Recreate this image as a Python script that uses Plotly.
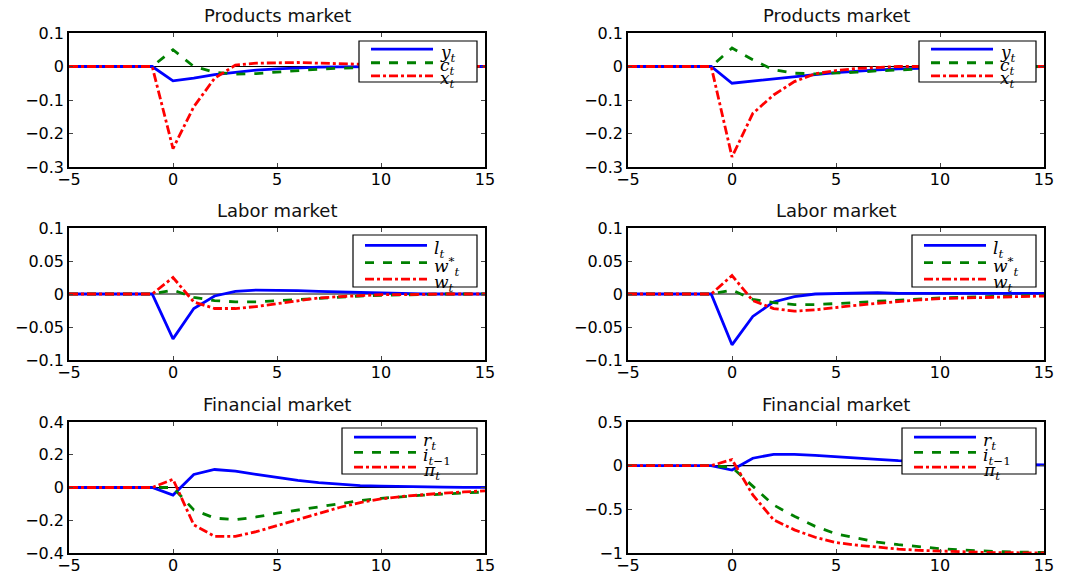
import plotly.graph_objects as go

t = list(range(-5, 16))
pre = [0, 0, 0, 0, 0]

# Products market (left)
y_L = pre + [-0.043, -0.035, -0.024, -0.017, -0.011, -0.007, -0.004, -0.002, -0.001, 0.0, 0.0, 0.0, 0.0, 0.0, 0.0, 0.0]
c_L = pre + [0.05, 0.0, -0.017, -0.023, -0.021, -0.016, -0.012, -0.008, -0.005, -0.003, -0.002, -0.001, 0.0, 0.0, 0.0, 0.0]
x_L = pre + [-0.245, -0.12, -0.035, 0.004, 0.01, 0.012, 0.012, 0.01, 0.008, 0.006, 0.004, 0.003, 0.002, 0.001, 0.001, 0.0]
# Products market (right)
y_R = pre + [-0.05, -0.043, -0.036, -0.03, -0.024, -0.018, -0.013, -0.01, -0.007, -0.005, -0.003, -0.002, -0.001, -0.001, 0.0, 0.0]
c_R = pre + [0.055, 0.02, -0.01, -0.02, -0.022, -0.02, -0.017, -0.013, -0.01, -0.007, -0.005, -0.003, -0.002, -0.001, -0.001, 0.0]
x_R = pre + [-0.27, -0.14, -0.085, -0.045, -0.022, -0.012, -0.006, -0.002, 0.0, 0.0, 0.0, 0.0, 0.0, 0.0, 0.0, 0.0]
# Labor market (left)
l_L = pre + [-0.068, -0.022, -0.003, 0.004, 0.006, 0.006, 0.005, 0.004, 0.003, 0.002, 0.001, 0.001, 0.0, 0.0, 0.0, 0.0]
ws_L = pre + [0.006, -0.005, -0.01, -0.012, -0.012, -0.01, -0.008, -0.006, -0.004, -0.003, -0.002, -0.001, -0.001, 0.0, 0.0, 0.0]
w_L = pre + [0.025, -0.012, -0.022, -0.022, -0.019, -0.015, -0.01, -0.006, -0.004, -0.002, -0.001, -0.001, 0.0, 0.0, 0.0, 0.0]
# Labor market (right)
l_R = pre + [-0.077, -0.034, -0.012, -0.004, 0.0, 0.001, 0.002, 0.002, 0.001, 0.001, 0.001, 0.001, 0.001, 0.001, 0.001, 0.001]
ws_R = pre + [0.006, -0.008, -0.013, -0.016, -0.016, -0.015, -0.013, -0.011, -0.009, -0.008, -0.006, -0.005, -0.004, -0.003, -0.002, -0.002]
w_R = pre + [0.028, -0.01, -0.022, -0.026, -0.024, -0.02, -0.017, -0.014, -0.011, -0.009, -0.007, -0.006, -0.005, -0.004, -0.003, -0.003]
# Financial market (left)
r_L = pre + [-0.046, 0.08, 0.11, 0.1, 0.08, 0.06, 0.043, 0.03, 0.02, 0.012, 0.008, 0.005, 0.003, 0.002, 0.001, 0.001]
i_L = pre + [0.0, -0.137, -0.187, -0.197, -0.18, -0.157, -0.137, -0.116, -0.096, -0.08, -0.066, -0.055, -0.047, -0.04, -0.033, -0.027]
p_L = pre + [0.05, -0.228, -0.298, -0.298, -0.27, -0.232, -0.195, -0.157, -0.122, -0.092, -0.07, -0.055, -0.043, -0.034, -0.027, -0.02]
# Financial market (right)
r_R = pre + [-0.05, 0.085, 0.13, 0.13, 0.118, 0.1, 0.087, 0.072, 0.057, 0.045, 0.035, 0.028, 0.022, 0.017, 0.013, 0.01]
i_R = pre + [-0.02, -0.24, -0.45, -0.58, -0.695, -0.78, -0.83, -0.875, -0.905, -0.93, -0.95, -0.965, -0.977, -0.985, -0.99, -0.993]
p_R = pre + [0.07, -0.335, -0.62, -0.735, -0.82, -0.88, -0.91, -0.935, -0.955, -0.97, -0.98, -0.988, -0.992, -0.996, -0.998, -1.0]

titles = ["Products market", "Labor market", "Financial market"]
names = [
    ["<i>y</i><sub><i>t</i></sub>", "<i>c</i><sub><i>t</i></sub>", "<i>x</i><sub><i>t</i></sub>"],
    ["<i>l</i><sub><i>t</i></sub>", "<i>w</i><sup>*</sup><sub><i>t</i></sub>", "<i>w</i><sub><i>t</i></sub>"],
    ["<i>r</i><sub><i>t</i></sub>", "<i>i</i><sub><i>t</i>−1</sub>", "<i>π</i><sub><i>t</i></sub>"],
]
series = [
    [[y_L, c_L, x_L], [y_R, c_R, x_R]],
    [[l_L, ws_L, w_L], [l_R, ws_R, w_R]],
    [[r_L, i_L, p_L], [r_R, i_R, p_R]],
]
yticks = [
    [[-0.3, -0.2, -0.1, 0, 0.1], ["−0.3", "−0.2", "−0.1", "0", "0.1"]],
    [[-0.1, -0.05, 0, 0.05, 0.1], ["−0.1", "−0.05", "0", "0.05", "0.1"]],
]
yticks_fin = [
    [[-0.4, -0.2, 0, 0.2, 0.4], ["−0.4", "−0.2", "0", "0.2", "0.4"]],
    [[-1, -0.5, 0, 0.5], ["−1", "−0.5", "0", "0.5"]],
]
xtickvals = [-5, 0, 5, 10, 15]
xticktext = ["−5", "0", "5", "10", "15"]

# page body has an 8px margin; figure is sized/offset to compensate
OFF = 8
W, H = 1068 - OFF, 573 - OFF
xdom_px = [(69, 485), (628, 1044)]
ydom_px = [(33, 167), (228, 360), (422, 553)]
# legend boxes (x0, y0, x1, y1) in screen pixels
legend_box = [
    [(359, 41, 477, 82), (919, 41, 1036, 82)],
    [(353, 235, 477, 287), (912, 235, 1036, 287)],
    [(342, 428, 477, 474), (902, 428, 1036, 474)],
]

colors = ["#0000FF", "#008000", "#FF0000"]
dashes = ["solid", "dash", "dashdot"]
LW = 2.8


def px(xp):
    return (xp - OFF) / W


def py(yp):
    return 1 - (yp - OFF) / H


fig = go.Figure()
layout = dict(
    width=W, height=H, margin=dict(l=0, r=0, t=0, b=0, autoexpand=False),
    paper_bgcolor="white", plot_bgcolor="white",
    font=dict(family="DejaVu Sans, sans-serif", size=16, color="black"),
    showlegend=False,
)
annotations = []
shapes = []
k = 0
for row in range(3):
    for col in range(2):
        k += 1
        ax = "" if k == 1 else str(k)
        xa, ya = "x" + ax, "y" + ax
        for j in range(3):
            fig.add_trace(go.Scatter(
                x=t, y=series[row][col][j], mode="lines", name=names[row][j],
                line=dict(color=colors[j], width=LW, dash=dashes[j]),
                xaxis=xa, yaxis=ya, showlegend=False,
            ))
        x0, x1 = xdom_px[col]
        y0, y1 = ydom_px[row]
        if row < 2:
            tv, tt = yticks[row]
        else:
            tv, tt = yticks_fin[col]
        yr = [tv[0], tv[-1]]
        layout["xaxis" + ax] = dict(
            domain=[px(x0), px(x1)], anchor=ya, range=[-5, 15],
            tickvals=xtickvals, ticktext=xticktext, ticks="inside", ticklen=4,
            showline=True, linecolor="black", linewidth=1.5, mirror="ticks",
            showgrid=False, zeroline=False, tickfont=dict(size=16), automargin=False,
            ticklabelstandoff=-3,
        )
        layout["yaxis" + ax] = dict(
            domain=[py(y1), py(y0)], anchor=xa, range=yr,
            tickvals=tv, ticktext=tt, ticks="inside", ticklen=4,
            showline=True, linecolor="black", linewidth=1.5, mirror="ticks",
            showgrid=False, zeroline=False, tickfont=dict(size=16), automargin=False,
        )
        shapes.append(dict(
            type="line", xref=xa + " domain", yref=ya, x0=0, x1=1, y0=0, y1=0,
            line=dict(color="black", width=1.2), layer="below",
        ))
        annotations.append(dict(
            text=titles[row], x=px((x0 + x1) / 2), y=py(y0 - 5),
            xref="paper", yref="paper", xanchor="center", yanchor="bottom",
            showarrow=False, font=dict(size=18, color="#111111"),
        ))
        # legend drawn manually
        bx0, by0, bx1, by1 = legend_box[row][col]
        bh = by1 - by0
        shapes.append(dict(
            type="rect", xref="paper", yref="paper",
            x0=px(bx0), x1=px(bx1), y0=py(by1), y1=py(by0),
            line=dict(color="black", width=1.2), fillcolor="white", layer="above",
        ))
        for j, frac in enumerate([0.2, 0.53, 0.85]):
            ry = by0 + bh * frac
            shapes.append(dict(
                type="line", xref="paper", yref="paper",
                x0=px(bx0 + 12), x1=px(bx0 + 74), y0=py(ry), y1=py(ry),
                line=dict(color=colors[j], width=LW, dash=dashes[j]), layer="above",
            ))
            annotations.append(dict(
                text=names[row][j], x=px(bx0 + 79), y=py(ry + 4),
                xref="paper", yref="paper", xanchor="left", yanchor="middle",
                showarrow=False,
                font=dict(family="DejaVu Serif, Liberation Serif, serif", size=17, color="black"),
            ))

layout["annotations"] = annotations
layout["shapes"] = shapes
fig.update_layout(**layout)
fig.write_html("out.html")
